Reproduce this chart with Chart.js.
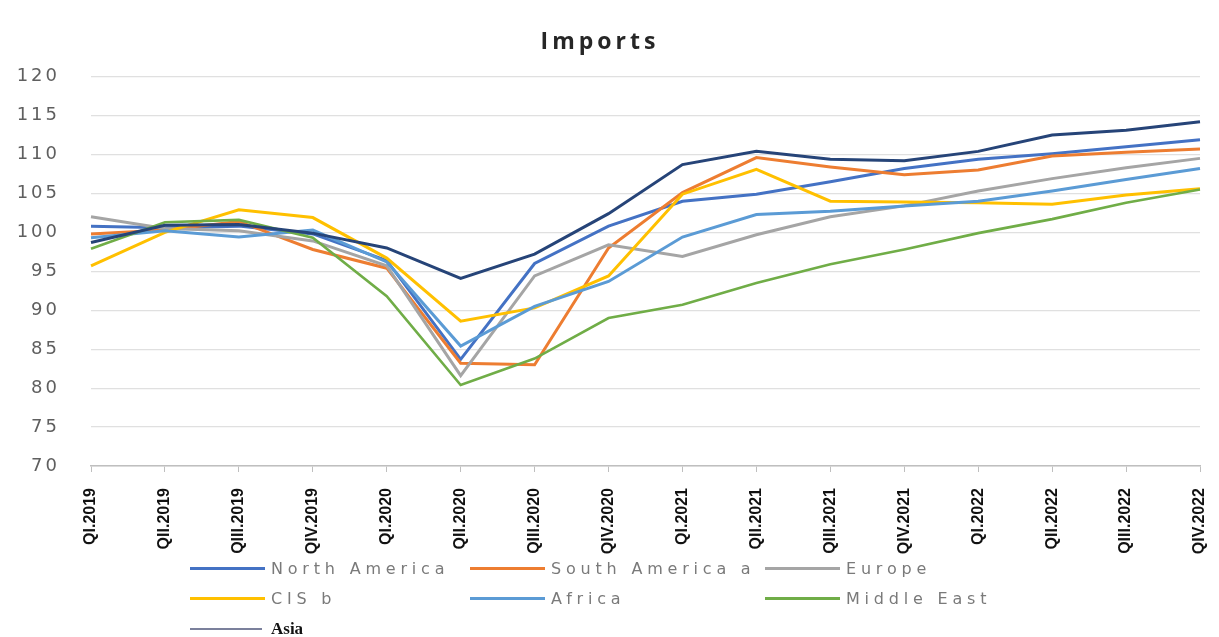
<!DOCTYPE html>
<html>
<head>
<meta charset="utf-8">
<script src="https://cdn.jsdelivr.net/npm/chart.js@4.4.1/dist/chart.umd.min.js"></script>
<style>
  html, body { margin: 0; padding: 0; background: #ffffff; }
  #wrap { position: relative; width: 1219px; height: 637px; overflow: hidden; }
  #chart { position: absolute; left: 0; top: 0; }
  #legend { position: absolute; left: 190px; top: 553px; display: grid;
            grid-template-columns: 280px 295px 230px; grid-auto-rows: 30.5px; }
  .item { display: flex; align-items: center; white-space: nowrap; }
  .sw { width: 75px; height: 3px; margin-right: 6px; }
  .lbl { font-family: "DejaVu Sans", sans-serif; font-size: 16px; letter-spacing: 4.8px; color: #7a7a7a; }
  .lbl.asia { font-family: "Liberation Serif", "DejaVu Serif", serif; font-weight: bold; font-size: 17px; letter-spacing: 0; color: #111; }
  .sw.asia { height: 2px; width: 72px; margin-right: 9px; }
</style>
</head>
<body>
<div id="wrap">
  <canvas id="chart" width="1219" height="637"></canvas>
  <div id="legend"></div>
</div>
<script>
const chartTitle = "Imports";
const quarters = ["QI.2019","QII.2019","QIII.2019","QIV.2019","QI.2020","QII.2020","QIII.2020","QIV.2020",
                  "QI.2021","QII.2021","QIII.2021","QIV.2021","QI.2022","QII.2022","QIII.2022","QIV.2022"];
const yTicks = [70, 75, 80, 85, 90, 95, 100, 105, 110, 115, 120];

const seriesNames = ["North America","South America a","Europe","CIS b","Africa","Middle East","Asia"];

const northAmerica = [100.8,100.6,100.8, 99.8, 96.4, 83.7, 96.0,100.8,104.0,104.9,106.5,108.2,109.4,110.1,111.0,111.9];
const southAmerica = [ 99.8,100.3,101.4, 97.8, 95.4, 83.2, 83.0, 98.0,105.1,109.6,108.4,107.4,108.0,109.8,110.3,110.7];
const europe       = [102.0,100.5,100.2, 98.9, 95.7, 81.6, 94.4, 98.4, 96.9, 99.7,102.0,103.4,105.3,106.9,108.3,109.5];
const cis          = [ 95.7,100.0,102.9,101.9, 96.7, 88.6, 90.3, 94.4,104.9,108.1,104.0,103.9,103.8,103.6,104.8,105.6];
const africa       = [ 99.3,100.2, 99.4,100.3, 96.2, 85.4, 90.5, 93.7, 99.4,102.3,102.7,103.4,104.0,105.3,106.8,108.2];
const middleEast   = [ 97.9,101.3,101.6, 99.3, 91.8, 80.4, 83.8, 89.0, 90.7, 93.5, 95.9, 97.8, 99.9,101.7,103.8,105.5];
const asia         = [ 98.7,100.9,101.0, 99.9, 98.0, 94.1, 97.2,102.4,108.7,110.4,109.4,109.2,110.4,112.5,113.1,114.2];

const seriesValues = [northAmerica, southAmerica, europe, cis, africa, middleEast, asia];
const lineColors   = ["#4472C4","#ED7D31","#A5A5A5","#FFC000","#5B9BD5","#70AD47","#264478"];
const swatchColors = ["#4472C4","#ED7D31","#A5A5A5","#FFC000","#5B9BD5","#70AD47","#7b809c"];

const datasets = seriesNames.map((name, i) => ({
  label: name,
  data: seriesValues[i],
  borderColor: lineColors[i],
  backgroundColor: lineColors[i],
  borderWidth: i === 5 ? 2.6 : 3,
  pointRadius: 0,
  tension: 0,
  fill: false,
  order: seriesNames.length - 1 - i
}));

function withSpacing(obj, method, spacing) {
  if (!obj || obj["_sp_" + method]) return;
  const orig = obj[method];
  obj[method] = function (...args) {
    const c = this.ctx;
    c.save();
    c.letterSpacing = spacing;
    orig.apply(this, args);
    c.restore();
  };
  obj["_sp_" + method] = true;
}

const spacingPlugin = {
  id: "spacing",
  beforeDraw(chart) {
    withSpacing(chart.scales.y, "drawLabels", "3px");
    withSpacing(chart.titleBlock, "draw", "4px");
  }
};

new Chart(document.getElementById("chart"), {
  type: "line",
  data: { labels: quarters, datasets: datasets },
  plugins: [spacingPlugin],
  options: {
    responsive: false,
    animation: false,
    layout: { padding: { left: 0, right: 19, top: 3, bottom: 71 } },
    plugins: {
      legend: { display: false },
      tooltip: { enabled: false },
      title: {
        display: true,
        text: chartTitle,
        color: "#262626",
        font: { family: "Open Sans", size: 23, weight: "bold" },
        padding: { top: 26, bottom: 20 }
      }
    },
    scales: {
      x: {
        afterFit: (s) => { s.height = 100; s.paddingLeft = 0; s.paddingRight = 0; },
        grid: { display: true, drawOnChartArea: false, drawTicks: true, tickLength: 6, color: "#bfbfbf" },
        border: { display: true, color: "#bfbfbf", width: 1.5 },
        ticks: {
          autoSkip: false, minRotation: 90, maxRotation: 90, padding: 16,
          color: "#111111",
          font: { family: "Liberation Sans Narrow, Liberation Sans, sans-serif", size: 16, weight: "bold" }
        }
      },
      y: {
        min: 70, max: 120,
        afterFit: (s) => { s.width = 91; s.paddingTop = 0; s.paddingBottom = 0; },
        afterBuildTicks: (s) => { s.ticks = yTicks.map(v => ({ value: v })); },
        grid: { color: "#e0e0e0", lineWidth: 1.2, drawTicks: false },
        border: { display: false },
        ticks: {
          padding: 31,
          color: "#5f5f5f",
          font: { family: "DejaVu Sans", size: 18 }
        }
      }
    }
  }
});

const legendEl = document.getElementById("legend");
seriesNames.forEach((name, i) => {
  const item = document.createElement("div");
  item.className = "item";
  const sw = document.createElement("span");
  sw.className = "sw" + (name === "Asia" ? " asia" : "");
  sw.style.background = swatchColors[i];
  const lb = document.createElement("span");
  lb.className = "lbl" + (name === "Asia" ? " asia" : "");
  lb.textContent = name;
  item.appendChild(sw);
  item.appendChild(lb);
  legendEl.appendChild(item);
});
</script>
</body>
</html>
